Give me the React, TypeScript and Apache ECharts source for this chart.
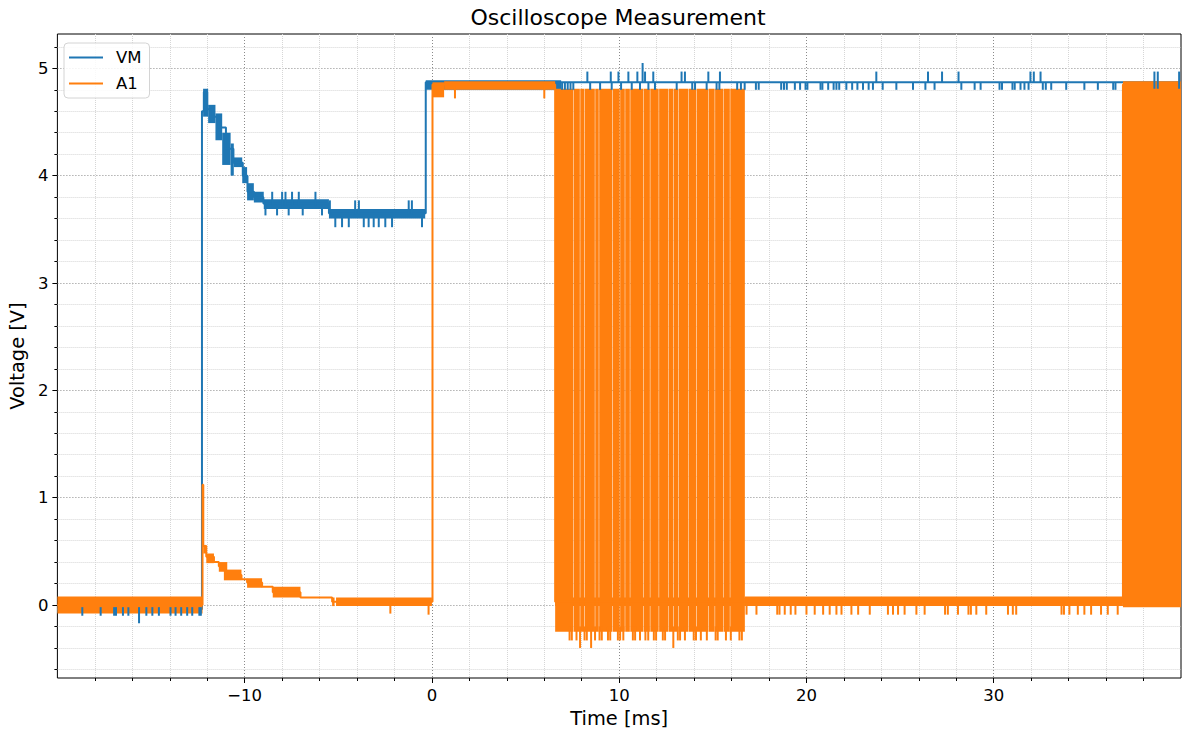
import * as echarts from "echarts";
import { useEffect, useRef } from "react";

const VM_COLOR = "#1f77b4";
const A1_COLOR = "#ff7f0e";
const FONT = "DejaVu Sans";

const xMajorTicks = [-10, 0, 10, 20, 30];
const yMajorTicks = [0, 1, 2, 3, 4, 5];

// step traces: [start time ms, level V], held until the next point
const vmTrace = [
  [-20, -0.04], [-12.28, 4.6], [-12.18, 4.78], [-12.0, 4.62], [-11.7, 4.55],
  [-11.4, 4.45], [-11.0, 4.25], [-10.6, 4.12], [-10.1, 4.0], [-9.85, 3.85],
  [-9.5, 3.8], [-9.0, 3.74], [-5.5, 3.65], [-0.33, 4.87], [40, 4.87],
];
const a1Trace = [
  [-20, 0.0], [-12.25, 1.12], [-12.21, 0.55], [-12.05, 0.45], [-11.64, 0.4],
  [-11.38, 0.36], [-11.05, 0.28], [-10.17, 0.24], [-9.87, 0.21], [-9.07, 0.17],
  [-8.5, 0.12], [-7.02, 0.07], [-5.33, 0.03], [0.03, 4.85], [6.58, 0.03],
  [36.9, 4.85], [40, 4.85],
];

// dense noise bands: [t0, t1, low, high]
const vmBands = [
  [-20, -12.28, -0.07, 0.0],
  [-12.22, -11.95, 4.55, 4.81],
  [-11.95, -11.56, 4.49, 4.66],
  [-11.56, -11.2, 4.33, 4.58],
  [-11.2, -10.75, 4.1, 4.4],
  [-10.75, -10.58, 4.0, 4.3],
  [-10.58, -10.13, 4.08, 4.17],
  [-10.13, -9.87, 3.93, 4.08],
  [-9.87, -9.51, 3.77, 3.93],
  [-9.51, -8.98, 3.75, 3.85],
  [-8.98, -5.5, 3.69, 3.78],
  [-5.5, -0.36, 3.6, 3.69],
  [-0.33, 6.9, 4.8, 4.89],
];
const a1Bands = [
  [-20, -12.25, -0.08, 0.08],
  [-12.21, -12.05, 0.48, 0.56],
  [-12.05, -11.64, 0.39, 0.48],
  [-11.38, -10.93, 0.31, 0.4],
  [-11.11, -10.17, 0.23, 0.33],
  [-9.87, -9.07, 0.16, 0.25],
  [-8.5, -7.02, 0.07, 0.17],
  [-5.33, -5.2, -0.01, 0.07],
  [-5.12, 0.0, -0.01, 0.07],
  [0.03, 0.65, 4.73, 4.87],
  [0.65, 6.58, 4.8, 4.88],
  [6.58, 16.71, -0.01, 0.07],
  [16.71, 36.9, -0.01, 0.08],
  [36.9, 40, -0.02, 4.88],
];

// first PWM burst: edges, swing, and the thin gaps between its pulses
const a1Burst = [6.58, 16.71, -0.25, 4.81];
const a1BurstGaps = [
  7.55, 7.91, 8.14, 8.71, 8.92, 9.64, 10.04, 10.31, 10.58, 11.29, 11.65,
  12.12, 12.62, 12.89, 13.16, 13.69, 14.13, 14.76, 15.11, 15.56, 15.92,
];

// single glitches: [t, low, high]
const vmGlitches = [
  [-18.67, -0.1, -0.02], [-17.69, -0.1, -0.02], [-16.97, -0.1, -0.02], [-16.87, -0.1, -0.02],
  [-16.5, -0.1, -0.02], [-16.21, -0.1, -0.02], [-15.64, -0.17, -0.02], [-15.25, -0.1, -0.02],
  [-14.93, -0.1, -0.02], [-14.58, -0.1, -0.02], [-13.96, -0.1, -0.02], [-13.69, -0.1, -0.02],
  [-13.39, -0.1, -0.02], [-13.07, -0.1, -0.02], [-12.8, -0.1, -0.02], [-12.42, -0.1, -0.02],
  [-12.34, -0.1, -0.02],
  [-8.53, 3.72, 3.85], [-8.0, 3.72, 3.85], [-7.82, 3.72, 3.85], [-7.47, 3.72, 3.85],
  [-7.11, 3.72, 3.85], [-6.22, 3.72, 3.85], [-8.89, 3.63, 3.72], [-8.27, 3.63, 3.72],
  [-7.65, 3.63, 3.72], [-6.9, 3.63, 3.72], [-5.87, 3.63, 3.72],
  [-5.45, 3.64, 3.77], [-4.1, 3.64, 3.77], [-3.9, 3.64, 3.77], [-1.24, 3.64, 3.77], [-1.07, 3.64, 3.77],
  [-5.16, 3.52, 3.62], [-4.8, 3.52, 3.62], [-4.44, 3.52, 3.62], [-3.64, 3.52, 3.62],
  [-3.38, 3.52, 3.62], [-3.11, 3.52, 3.62], [-2.84, 3.52, 3.62], [-2.49, 3.52, 3.62],
  [-2.13, 3.52, 3.62], [-0.53, 3.52, 3.62],
  [8.3, 4.87, 4.97], [9.55, 4.87, 4.97], [9.96, 4.87, 4.97], [10.49, 4.87, 4.97],
  [10.97, 4.87, 4.97], [11.25, 4.87, 5.05], [11.38, 4.87, 4.97], [11.82, 4.87, 4.97],
  [13.33, 4.87, 4.97], [13.51, 4.87, 4.97], [14.76, 4.87, 4.97], [15.38, 4.87, 4.97],
  [23.73, 4.87, 4.97], [26.49, 4.87, 4.97], [27.24, 4.87, 4.97], [28.12, 4.87, 4.97],
  [31.96, 4.87, 4.97], [32.14, 4.87, 4.97], [32.5, 4.87, 4.97], [38.58, 4.81, 4.97],
  [38.76, 4.81, 4.97], [39.9, 4.81, 4.97],
  [6.95, 4.8, 4.87], [7.1, 4.8, 4.87], [7.25, 4.8, 4.87], [7.4, 4.8, 4.87], [7.55, 4.8, 4.87],
  [8.45, 4.8, 4.87], [8.98, 4.8, 4.87], [9.6, 4.8, 4.87], [10.1, 4.8, 4.87], [10.67, 4.8, 4.87],
  [11.11, 4.8, 4.87], [11.56, 4.8, 4.87], [11.91, 4.8, 4.87], [13.07, 4.8, 4.87],
  [13.9, 4.8, 4.87], [14.05, 4.8, 4.87], [14.67, 4.8, 4.87], [15.2, 4.8, 4.87], [15.35, 4.8, 4.87],
  [16.3, 4.8, 4.87], [16.5, 4.8, 4.87], [16.7, 4.8, 4.87], [17.3, 4.8, 4.87], [17.45, 4.8, 4.87],
  [18.65, 4.8, 4.87], [18.8, 4.8, 4.87], [18.95, 4.8, 4.87], [19.38, 4.8, 4.87], [19.66, 4.8, 4.87],
  [19.95, 4.8, 4.87], [20.05, 4.8, 4.87], [20.75, 4.8, 4.87], [20.85, 4.8, 4.87], [21.16, 4.8, 4.87],
  [21.45, 4.8, 4.87], [21.6, 4.8, 4.87], [21.75, 4.8, 4.87], [22.13, 4.8, 4.87], [22.44, 4.8, 4.87],
  [22.72, 4.8, 4.87], [23.02, 4.8, 4.87], [23.32, 4.8, 4.87], [23.55, 4.8, 4.87], [24.07, 4.8, 4.87],
  [24.8, 4.8, 4.87], [25.69, 4.8, 4.87], [26.35, 4.8, 4.87], [26.84, 4.8, 4.87], [28.27, 4.8, 4.87],
  [28.98, 4.8, 4.87], [29.3, 4.8, 4.87], [30.31, 4.8, 4.87], [30.44, 4.8, 4.87], [31.0, 4.8, 4.87],
  [31.12, 4.8, 4.87], [31.43, 4.8, 4.87], [31.64, 4.8, 4.87], [31.86, 4.8, 4.87], [32.62, 4.8, 4.87],
  [32.78, 4.8, 4.87], [33.07, 4.8, 4.87], [33.87, 4.8, 4.87], [34.84, 4.8, 4.87], [35.56, 4.8, 4.87],
  [36.38, 4.8, 4.87], [36.5, 4.8, 4.87],
];
const a1Glitches = [
  [-2.22, -0.08, 0.0], [-0.18, -0.09, 0.0], [1.23, 4.72, 4.85], [6.0, 4.72, 4.85],
  [7.35, -0.33, -0.2], [7.47, -0.33, -0.2], [7.72, -0.33, -0.2], [7.91, -0.4, -0.2],
  [8.15, -0.33, -0.2], [8.27, -0.33, -0.2], [8.5, -0.4, -0.2], [8.71, -0.33, -0.2],
  [8.95, -0.33, -0.2], [9.07, -0.33, -0.2], [9.4, -0.33, -0.2], [9.52, -0.33, -0.2],
  [9.93, -0.33, -0.2], [10.05, -0.33, -0.2], [10.22, -0.33, -0.2], [10.73, -0.33, -0.2],
  [10.85, -0.33, -0.2], [11.11, -0.33, -0.2], [11.4, -0.33, -0.2], [11.55, -0.33, -0.2],
  [11.85, -0.33, -0.2], [11.97, -0.33, -0.2], [12.33, -0.33, -0.2], [12.45, -0.33, -0.2],
  [12.89, -0.4, -0.2], [13.13, -0.33, -0.2], [13.25, -0.33, -0.2], [13.51, -0.33, -0.2],
  [13.98, -0.33, -0.2], [14.1, -0.33, -0.2], [14.36, -0.33, -0.2], [14.68, -0.33, -0.2],
  [15.15, -0.33, -0.2], [15.26, -0.33, -0.2], [15.7, -0.33, -0.2], [15.96, -0.33, -0.2],
  [16.42, -0.33, -0.2], [16.55, -0.33, -0.2],
  [16.8, -0.09, 0.0], [17.33, -0.09, 0.0], [18.44, -0.09, 0.0], [18.56, -0.09, 0.0],
  [18.84, -0.09, 0.0], [19.16, -0.09, 0.0], [19.41, -0.09, 0.0], [20.0, -0.09, 0.0],
  [20.44, -0.09, 0.0], [20.89, -0.09, 0.0], [21.24, -0.09, 0.0], [21.6, -0.09, 0.0],
  [21.87, -0.09, 0.0], [22.4, -0.09, 0.0], [22.76, -0.09, 0.0], [23.38, -0.09, 0.0],
  [24.35, -0.09, 0.0], [24.62, -0.09, 0.0], [24.89, -0.09, 0.0], [25.24, -0.09, 0.0],
  [25.87, -0.09, 0.0], [26.31, -0.09, 0.0], [27.4, -0.09, 0.0], [27.55, -0.09, 0.0],
  [28.09, -0.09, 0.0], [28.65, -0.09, 0.0], [28.78, -0.09, 0.0], [29.07, -0.09, 0.0],
  [29.6, -0.09, 0.0], [30.76, -0.09, 0.0], [31.02, -0.09, 0.0], [31.2, -0.09, 0.0],
  [33.62, -0.09, 0.0], [33.75, -0.09, 0.0], [34.04, -0.09, 0.0], [34.49, -0.09, 0.0],
  [34.84, -0.09, 0.0], [35.2, -0.09, 0.0], [35.73, -0.09, 0.0], [36.09, -0.09, 0.0],
  [36.62, -0.09, 0.0],
];

const fmt = (v: number) => (v < 0 ? "\u2212" + Math.abs(v) : String(v));

const rectItem = (color: string) => (params: any, api: any) => {
  const a = api.coord([api.value(0), api.value(3)]);
  const b = api.coord([api.value(1), api.value(2)]);
  let w = b[0] - a[0];
  let x = a[0];
  if (w < 2) {
    x = (a[0] + b[0]) / 2 - 1;
    w = 2;
  }
  const h = Math.max(b[1] - a[1], 2);
  const shape = echarts.graphic.clipRectByRect(
    { x, y: a[1], width: w, height: h },
    params.coordSys,
  );
  if (!shape) return null;
  return { type: "rect", shape, style: { fill: color } };
};

const bandSeries = (name: string, color: string, rows: number[][], z: number) => ({
  type: "custom",
  name,
  z,
  silent: true,
  itemStyle: { color },
  renderItem: rectItem(color),
  encode: { x: [0, 1], y: [2, 3] },
  data: rows,
});

const toRows = (glitches: number[][]) => glitches.map(([t, lo, hi]) => [t, t, lo, hi]);

// split the burst into pulse blocks at the listed gaps
const burstRows = () => {
  const [t0, t1, lo, hi] = a1Burst;
  const edges = [t0, ...a1BurstGaps, t1];
  const half = 0.012;
  const rows: number[][] = [];
  for (let i = 0; i < edges.length - 1; i++) {
    rows.push([edges[i] + (i > 0 ? half : 0), edges[i + 1] - (i < edges.length - 2 ? half : 0), lo, hi]);
  }
  return rows;
};

const lineSeries = (name: string, color: string, data: number[][], z: number) => ({
  type: "line",
  name,
  z,
  step: "end",
  showSymbol: false,
  symbol: "none",
  silent: true,
  itemStyle: { color },
  lineStyle: { color, width: 2 },
  data,
});

const majorGrid = { lineStyle: { color: "#8a8a8a", width: 1, type: [1, 2] } };
const minorGrid = { show: true, lineStyle: { color: "#d6d6d6", width: 1, type: [1, 1] } };
const tickStyle = { lineStyle: { color: "#000", width: 1 } };
const labelStyle = { fontFamily: FONT, fontSize: 16.5, color: "#000" };

export default function App() {
  const ref = useRef<HTMLDivElement>(null);

  useEffect(() => {
    if (!ref.current) return;
    const chart = echarts.init(ref.current, null, { renderer: "svg" });
    chart.setOption({
      animation: false,
      backgroundColor: "#fff",
      grid: {
        left: 55,
        right: 8,
        top: 34,
        bottom: 62,
        show: true,
        borderColor: "#000",
        borderWidth: 1,
        backgroundColor: "transparent",
      },
      graphic: [
        {
          type: "text",
          x: 618,
          y: 17,
          style: {
            text: "Oscilloscope Measurement",
            font: `22px "${FONT}"`,
            fill: "#000",
            align: "center",
            verticalAlign: "middle",
            textAlign: "center",
            textVerticalAlign: "middle",
          },
        },
      ],
      legend: {
        data: [
          { name: "VM", itemStyle: { color: VM_COLOR } },
          { name: "A1", itemStyle: { color: A1_COLOR } },
        ],
        orient: "vertical",
        left: 64,
        top: 43,
        icon: "rect",
        itemWidth: 34,
        itemHeight: 2,
        itemGap: 9,
        padding: [6, 8, 6, 5],
        backgroundColor: "rgba(255,255,255,0.85)",
        borderColor: "#d4d4d4",
        borderWidth: 1,
        borderRadius: 4,
        selectedMode: false,
        textStyle: { fontFamily: FONT, fontSize: 16.5, color: "#000", padding: [0, 0, 0, 8] },
      },
      xAxis: {
        type: "value",
        min: -20,
        max: 40,
        interval: 10,
        name: "Time [ms]",
        nameLocation: "middle",
        nameGap: 31,
        nameTextStyle: { fontFamily: FONT, fontSize: 19.4, color: "#000" },
        axisLine: { show: false, onZero: false },
        axisTick: { customValues: xMajorTicks, length: 5, ...tickStyle },
        minorTick: { show: true, splitNumber: 5, length: 3, ...tickStyle },
        axisLabel: { customValues: xMajorTicks, margin: 9, formatter: fmt, ...labelStyle },
        splitLine: majorGrid,
        minorSplitLine: minorGrid,
      },
      yAxis: {
        type: "value",
        min: -0.68,
        max: 5.32,
        splitNumber: 6,
        minInterval: 1,
        maxInterval: 1,
        name: "Voltage [V]",
        nameLocation: "middle",
        nameGap: 28,
        nameTextStyle: { fontFamily: FONT, fontSize: 19.4, color: "#000" },
        axisLine: { show: false, onZero: false },
        axisTick: { customValues: yMajorTicks, length: 5, ...tickStyle },
        minorTick: { show: true, splitNumber: 5, length: 3, ...tickStyle },
        axisLabel: { customValues: yMajorTicks, margin: 9, formatter: fmt, ...labelStyle },
        splitLine: majorGrid,
        minorSplitLine: minorGrid,
      },
      series: [
        lineSeries("VM", VM_COLOR, vmTrace, 2),
        bandSeries("VM", VM_COLOR, vmBands, 2),
        lineSeries("A1", A1_COLOR, a1Trace, 3),
        bandSeries("A1", A1_COLOR, a1Bands, 3),
        bandSeries("A1", A1_COLOR, burstRows(), 3),
        bandSeries("A1", A1_COLOR, toRows(a1Glitches), 3),
        bandSeries("VM", VM_COLOR, toRows(vmGlitches), 4),
      ],
    });
    return () => chart.dispose();
  }, []);

  return (
    <div
      ref={ref}
      style={{ position: "absolute", left: 0, top: 0, width: 1189, height: 740 }}
    />
  );
}
